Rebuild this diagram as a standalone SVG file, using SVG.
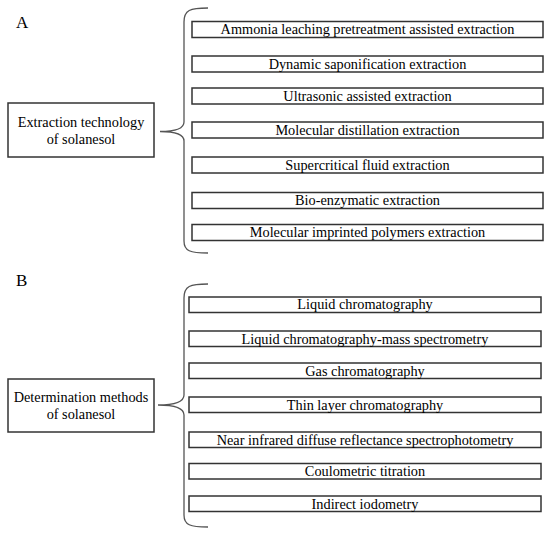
<svg xmlns="http://www.w3.org/2000/svg" width="550" height="535" viewBox="0 0 550 535">
<style>
.box{fill:#fff;stroke:#333;stroke-width:1.5}
.t{font-family:"Liberation Serif","Times New Roman",serif;font-size:14.3px;fill:#000;text-anchor:middle}
.lbl{font-family:"Liberation Serif","Times New Roman",serif;font-size:17px;fill:#000}
.brace{fill:none;stroke:#555;stroke-width:1.3}
</style>
<rect width="550" height="535" fill="#fff"/>
<text class="lbl" x="16" y="28">A</text>
<text class="lbl" x="16" y="286">B</text>
<g id="connectors">
<path class="brace" d="M208,8 C190,8 184,10 184,22 L184,122 C184,128 177,131.5 160,131.5 C177,131.5 184,135 184,141 L184,241 C184,251 190,253 208,253"/>
<path class="brace" d="M208,284 C190,284 184,286 184,298 L184,395 C184,401 177,405 158,405 C177,405 184,409 184,415 L184,515 C184,525 190,527 208,527"/>
</g>
<g id="nodeA">
<rect class="box" x="8" y="103" width="146" height="54"/>
<text class="t" x="81" y="127">Extraction technology</text>
<text class="t" x="81" y="144">of solanesol</text>
</g>
<g id="a1"><rect class="box" x="192" y="21.5" width="351" height="16"/><text class="t" x="367.5" y="34">Ammonia leaching pretreatment assisted extraction</text></g>
<g id="a2"><rect class="box" x="192" y="56" width="351" height="16"/><text class="t" x="367.5" y="68.5">Dynamic saponification extraction</text></g>
<g id="a3"><rect class="box" x="192" y="88" width="351" height="16"/><text class="t" x="367.5" y="100.5">Ultrasonic assisted extraction</text></g>
<g id="a4"><rect class="box" x="192" y="122" width="351" height="16"/><text class="t" x="367.5" y="134.5">Molecular distillation extraction</text></g>
<g id="a5"><rect class="box" x="192" y="157" width="351" height="16"/><text class="t" x="367.5" y="169.5">Supercritical fluid extraction</text></g>
<g id="a6"><rect class="box" x="192" y="192.5" width="351" height="16"/><text class="t" x="367.5" y="205">Bio-enzymatic extraction</text></g>
<g id="a7"><rect class="box" x="192" y="224.5" width="351" height="16"/><text class="t" x="367.5" y="237">Molecular imprinted polymers extraction</text></g>
<g id="nodeB">
<rect class="box" x="8" y="379" width="146" height="53"/>
<text class="t" x="81" y="402">Determination methods</text>
<text class="t" x="81" y="419">of solanesol</text>
</g>
<g id="b1"><rect class="box" x="189" y="297" width="352" height="15.5"/><text class="t" x="365" y="309">Liquid chromatography</text></g>
<g id="b2"><rect class="box" x="189" y="331" width="352" height="15.5"/><text class="t" x="365" y="343.5">Liquid chromatography-mass spectrometry</text></g>
<g id="b3"><rect class="box" x="189" y="363" width="352" height="15.5"/><text class="t" x="365" y="375.5">Gas chromatography</text></g>
<g id="b4"><rect class="box" x="189" y="397" width="352" height="15.5"/><text class="t" x="365" y="409.5">Thin layer chromatography</text></g>
<g id="b5"><rect class="box" x="189" y="432" width="352" height="15.5"/><text class="t" x="365" y="444.5">Near infrared diffuse reflectance spectrophotometry</text></g>
<g id="b6"><rect class="box" x="189" y="463.5" width="352" height="15.5"/><text class="t" x="365" y="476">Coulometric titration</text></g>
<g id="b7"><rect class="box" x="189" y="496" width="352" height="15.5"/><text class="t" x="365" y="508.5">Indirect iodometry</text></g>
</svg>
